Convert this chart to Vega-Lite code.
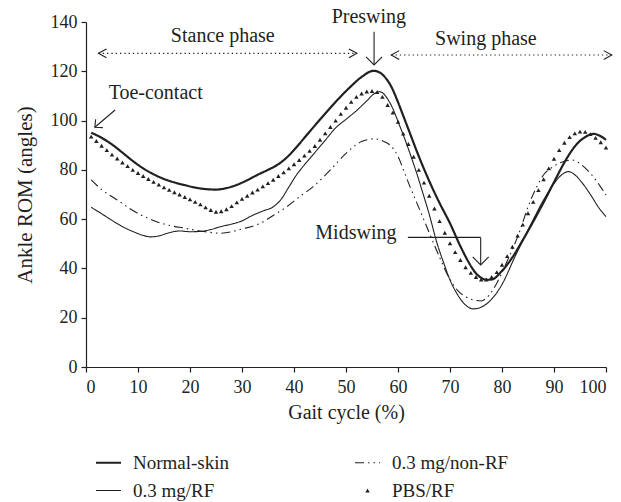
{
  "$schema": "https://vega.github.io/schema/vega-lite/v6.json",
  "width": 520,
  "height": 345,
  "autosize": {"type": "none"},
  "padding": {"left": 86, "top": 22, "right": 15, "bottom": 135},
  "background": "white",
  "config": {
    "view": {"stroke": null},
    "font": "Liberation Serif",
    "axis": {
      "grid": false,
      "domainColor": "#231f20",
      "domainWidth": 1.2,
      "tickColor": "#231f20",
      "tickWidth": 1.2,
      "tickSize": 5,
      "labelColor": "#231f20",
      "titleColor": "#231f20",
      "labelFont": "Liberation Serif",
      "titleFont": "Liberation Serif",
      "labelFontSize": 18,
      "titleFontSize": 20,
      "titleFontWeight": "normal"
    }
  },
  "datasets": {
    "curves": [
      {"series": "Normal-skin", "x": 1, "y": 95.1},
      {"series": "Normal-skin", "x": 3, "y": 93},
      {"series": "Normal-skin", "x": 5, "y": 90.3},
      {"series": "Normal-skin", "x": 7, "y": 87},
      {"series": "Normal-skin", "x": 9, "y": 83.6},
      {"series": "Normal-skin", "x": 11, "y": 80.6},
      {"series": "Normal-skin", "x": 13, "y": 78.2},
      {"series": "Normal-skin", "x": 15, "y": 76.3},
      {"series": "Normal-skin", "x": 17, "y": 74.9},
      {"series": "Normal-skin", "x": 19, "y": 73.8},
      {"series": "Normal-skin", "x": 21, "y": 72.8},
      {"series": "Normal-skin", "x": 23, "y": 72.2},
      {"series": "Normal-skin", "x": 25, "y": 72},
      {"series": "Normal-skin", "x": 27, "y": 72.6},
      {"series": "Normal-skin", "x": 29, "y": 73.9},
      {"series": "Normal-skin", "x": 31, "y": 75.8},
      {"series": "Normal-skin", "x": 33, "y": 78},
      {"series": "Normal-skin", "x": 35, "y": 80},
      {"series": "Normal-skin", "x": 37, "y": 82.3},
      {"series": "Normal-skin", "x": 39, "y": 85.8},
      {"series": "Normal-skin", "x": 41, "y": 90.5},
      {"series": "Normal-skin", "x": 43, "y": 95.5},
      {"series": "Normal-skin", "x": 45, "y": 100.4},
      {"series": "Normal-skin", "x": 47, "y": 105.2},
      {"series": "Normal-skin", "x": 49, "y": 109.8},
      {"series": "Normal-skin", "x": 51, "y": 114},
      {"series": "Normal-skin", "x": 53, "y": 117.7},
      {"series": "Normal-skin", "x": 55.3, "y": 120.2},
      {"series": "Normal-skin", "x": 56.5, "y": 119.5},
      {"series": "Normal-skin", "x": 57.5, "y": 117.6},
      {"series": "Normal-skin", "x": 58.5, "y": 114.6},
      {"series": "Normal-skin", "x": 60, "y": 107.5},
      {"series": "Normal-skin", "x": 61, "y": 102},
      {"series": "Normal-skin", "x": 62, "y": 96.5},
      {"series": "Normal-skin", "x": 64, "y": 85.5},
      {"series": "Normal-skin", "x": 66, "y": 75.5},
      {"series": "Normal-skin", "x": 68, "y": 66.5},
      {"series": "Normal-skin", "x": 70, "y": 58.3},
      {"series": "Normal-skin", "x": 72, "y": 49},
      {"series": "Normal-skin", "x": 73, "y": 44.8},
      {"series": "Normal-skin", "x": 74, "y": 41},
      {"series": "Normal-skin", "x": 75, "y": 38},
      {"series": "Normal-skin", "x": 76, "y": 36.2},
      {"series": "Normal-skin", "x": 77, "y": 35.4},
      {"series": "Normal-skin", "x": 78, "y": 35.5},
      {"series": "Normal-skin", "x": 80, "y": 39},
      {"series": "Normal-skin", "x": 82, "y": 44.5},
      {"series": "Normal-skin", "x": 84, "y": 51.5},
      {"series": "Normal-skin", "x": 86, "y": 59},
      {"series": "Normal-skin", "x": 88, "y": 66.8},
      {"series": "Normal-skin", "x": 90, "y": 75},
      {"series": "Normal-skin", "x": 92, "y": 83},
      {"series": "Normal-skin", "x": 93, "y": 86.5},
      {"series": "Normal-skin", "x": 94, "y": 89.5},
      {"series": "Normal-skin", "x": 96, "y": 93.3},
      {"series": "Normal-skin", "x": 97.6, "y": 94.6},
      {"series": "Normal-skin", "x": 99, "y": 93.6},
      {"series": "Normal-skin", "x": 100, "y": 92.2},

      {"series": "0.3 mg/RF", "x": 1, "y": 64.8},
      {"series": "0.3 mg/RF", "x": 3, "y": 62.2},
      {"series": "0.3 mg/RF", "x": 5, "y": 59.5},
      {"series": "0.3 mg/RF", "x": 7, "y": 57},
      {"series": "0.3 mg/RF", "x": 9, "y": 55},
      {"series": "0.3 mg/RF", "x": 11, "y": 53.4},
      {"series": "0.3 mg/RF", "x": 12.5, "y": 52.8},
      {"series": "0.3 mg/RF", "x": 14, "y": 53.2},
      {"series": "0.3 mg/RF", "x": 16, "y": 54.5},
      {"series": "0.3 mg/RF", "x": 18, "y": 55.2},
      {"series": "0.3 mg/RF", "x": 20, "y": 54.9},
      {"series": "0.3 mg/RF", "x": 22, "y": 55},
      {"series": "0.3 mg/RF", "x": 24, "y": 55.8},
      {"series": "0.3 mg/RF", "x": 26, "y": 57},
      {"series": "0.3 mg/RF", "x": 28, "y": 58},
      {"series": "0.3 mg/RF", "x": 30, "y": 59.3},
      {"series": "0.3 mg/RF", "x": 32, "y": 61.5},
      {"series": "0.3 mg/RF", "x": 34, "y": 63.3},
      {"series": "0.3 mg/RF", "x": 36, "y": 65},
      {"series": "0.3 mg/RF", "x": 37.5, "y": 68},
      {"series": "0.3 mg/RF", "x": 39, "y": 73},
      {"series": "0.3 mg/RF", "x": 40.5, "y": 78},
      {"series": "0.3 mg/RF", "x": 42, "y": 82},
      {"series": "0.3 mg/RF", "x": 44, "y": 87},
      {"series": "0.3 mg/RF", "x": 46, "y": 92},
      {"series": "0.3 mg/RF", "x": 48, "y": 97},
      {"series": "0.3 mg/RF", "x": 50, "y": 100.5},
      {"series": "0.3 mg/RF", "x": 52, "y": 104},
      {"series": "0.3 mg/RF", "x": 54, "y": 108},
      {"series": "0.3 mg/RF", "x": 55.5, "y": 111},
      {"series": "0.3 mg/RF", "x": 56.5, "y": 111.7},
      {"series": "0.3 mg/RF", "x": 58.5, "y": 107},
      {"series": "0.3 mg/RF", "x": 60.4, "y": 97.5},
      {"series": "0.3 mg/RF", "x": 62.3, "y": 86.7},
      {"series": "0.3 mg/RF", "x": 63.6, "y": 78.6},
      {"series": "0.3 mg/RF", "x": 64.6, "y": 71.8},
      {"series": "0.3 mg/RF", "x": 66, "y": 62},
      {"series": "0.3 mg/RF", "x": 67.4, "y": 51},
      {"series": "0.3 mg/RF", "x": 69, "y": 41},
      {"series": "0.3 mg/RF", "x": 70, "y": 35.3},
      {"series": "0.3 mg/RF", "x": 71, "y": 31},
      {"series": "0.3 mg/RF", "x": 72.6, "y": 26},
      {"series": "0.3 mg/RF", "x": 74.5, "y": 23.6},
      {"series": "0.3 mg/RF", "x": 76, "y": 24.3},
      {"series": "0.3 mg/RF", "x": 78, "y": 27.5},
      {"series": "0.3 mg/RF", "x": 80, "y": 33.5},
      {"series": "0.3 mg/RF", "x": 82.5, "y": 44.8},
      {"series": "0.3 mg/RF", "x": 85, "y": 55.5},
      {"series": "0.3 mg/RF", "x": 88, "y": 67.8},
      {"series": "0.3 mg/RF", "x": 90, "y": 74.5},
      {"series": "0.3 mg/RF", "x": 91.5, "y": 78},
      {"series": "0.3 mg/RF", "x": 92.8, "y": 79.3},
      {"series": "0.3 mg/RF", "x": 94, "y": 78},
      {"series": "0.3 mg/RF", "x": 95.5, "y": 74.5},
      {"series": "0.3 mg/RF", "x": 97, "y": 70},
      {"series": "0.3 mg/RF", "x": 98.5, "y": 65},
      {"series": "0.3 mg/RF", "x": 100, "y": 61},

      {"series": "0.3 mg/non-RF", "x": 1, "y": 75.9},
      {"series": "0.3 mg/non-RF", "x": 3, "y": 72},
      {"series": "0.3 mg/non-RF", "x": 6, "y": 67.8},
      {"series": "0.3 mg/non-RF", "x": 9, "y": 63.5},
      {"series": "0.3 mg/non-RF", "x": 12, "y": 60.3},
      {"series": "0.3 mg/non-RF", "x": 15, "y": 58},
      {"series": "0.3 mg/non-RF", "x": 19, "y": 56.3},
      {"series": "0.3 mg/non-RF", "x": 22, "y": 55.2},
      {"series": "0.3 mg/non-RF", "x": 26, "y": 54.3},
      {"series": "0.3 mg/non-RF", "x": 30, "y": 56},
      {"series": "0.3 mg/non-RF", "x": 33.5, "y": 58.3},
      {"series": "0.3 mg/non-RF", "x": 36, "y": 61.5},
      {"series": "0.3 mg/non-RF", "x": 38.6, "y": 65},
      {"series": "0.3 mg/non-RF", "x": 41, "y": 69},
      {"series": "0.3 mg/non-RF", "x": 43.7, "y": 73.2},
      {"series": "0.3 mg/non-RF", "x": 47, "y": 80},
      {"series": "0.3 mg/non-RF", "x": 50, "y": 86.7},
      {"series": "0.3 mg/non-RF", "x": 53, "y": 91.5},
      {"series": "0.3 mg/non-RF", "x": 55.5, "y": 92.6},
      {"series": "0.3 mg/non-RF", "x": 57, "y": 91.8},
      {"series": "0.3 mg/non-RF", "x": 58.5, "y": 90},
      {"series": "0.3 mg/non-RF", "x": 60, "y": 85.5},
      {"series": "0.3 mg/non-RF", "x": 61.3, "y": 78.6},
      {"series": "0.3 mg/non-RF", "x": 62.3, "y": 73.2},
      {"series": "0.3 mg/non-RF", "x": 64.2, "y": 63.7},
      {"series": "0.3 mg/non-RF", "x": 66, "y": 54.5},
      {"series": "0.3 mg/non-RF", "x": 68, "y": 44.5},
      {"series": "0.3 mg/non-RF", "x": 70, "y": 35.5},
      {"series": "0.3 mg/non-RF", "x": 71.5, "y": 31},
      {"series": "0.3 mg/non-RF", "x": 73, "y": 28.5},
      {"series": "0.3 mg/non-RF", "x": 75, "y": 27},
      {"series": "0.3 mg/non-RF", "x": 76, "y": 26.8},
      {"series": "0.3 mg/non-RF", "x": 77, "y": 28},
      {"series": "0.3 mg/non-RF", "x": 78, "y": 30.5},
      {"series": "0.3 mg/non-RF", "x": 79, "y": 34},
      {"series": "0.3 mg/non-RF", "x": 81, "y": 43},
      {"series": "0.3 mg/non-RF", "x": 83.5, "y": 55.6},
      {"series": "0.3 mg/non-RF", "x": 85, "y": 65},
      {"series": "0.3 mg/non-RF", "x": 86.7, "y": 73.2},
      {"series": "0.3 mg/non-RF", "x": 88, "y": 78},
      {"series": "0.3 mg/non-RF", "x": 90, "y": 81.5},
      {"series": "0.3 mg/non-RF", "x": 92, "y": 83.5},
      {"series": "0.3 mg/non-RF", "x": 93.5, "y": 84},
      {"series": "0.3 mg/non-RF", "x": 95, "y": 82.5},
      {"series": "0.3 mg/non-RF", "x": 97, "y": 78.6},
      {"series": "0.3 mg/non-RF", "x": 99, "y": 73},
      {"series": "0.3 mg/non-RF", "x": 100, "y": 69.8},

      {"series": "PBS/RF", "x": 1, "y": 93.5},
      {"series": "PBS/RF", "x": 2, "y": 91.7},
      {"series": "PBS/RF", "x": 3, "y": 89.8},
      {"series": "PBS/RF", "x": 4, "y": 88},
      {"series": "PBS/RF", "x": 5, "y": 86.2},
      {"series": "PBS/RF", "x": 6, "y": 84.6},
      {"series": "PBS/RF", "x": 7, "y": 83},
      {"series": "PBS/RF", "x": 8, "y": 81.5},
      {"series": "PBS/RF", "x": 9, "y": 80},
      {"series": "PBS/RF", "x": 10, "y": 78.7},
      {"series": "PBS/RF", "x": 11, "y": 77.5},
      {"series": "PBS/RF", "x": 12, "y": 76.3},
      {"series": "PBS/RF", "x": 13, "y": 75.1},
      {"series": "PBS/RF", "x": 14, "y": 74},
      {"series": "PBS/RF", "x": 15, "y": 72.9},
      {"series": "PBS/RF", "x": 16, "y": 71.9},
      {"series": "PBS/RF", "x": 17, "y": 70.9},
      {"series": "PBS/RF", "x": 18, "y": 70},
      {"series": "PBS/RF", "x": 19, "y": 69},
      {"series": "PBS/RF", "x": 20, "y": 68},
      {"series": "PBS/RF", "x": 21, "y": 67},
      {"series": "PBS/RF", "x": 22, "y": 66},
      {"series": "PBS/RF", "x": 23, "y": 64.8},
      {"series": "PBS/RF", "x": 24, "y": 63.7},
      {"series": "PBS/RF", "x": 25, "y": 63},
      {"series": "PBS/RF", "x": 26, "y": 63.2},
      {"series": "PBS/RF", "x": 27, "y": 64},
      {"series": "PBS/RF", "x": 28, "y": 65.3},
      {"series": "PBS/RF", "x": 29, "y": 66.8},
      {"series": "PBS/RF", "x": 30, "y": 68.2},
      {"series": "PBS/RF", "x": 31, "y": 69.5},
      {"series": "PBS/RF", "x": 32, "y": 70.8},
      {"series": "PBS/RF", "x": 33, "y": 72},
      {"series": "PBS/RF", "x": 34, "y": 73.3},
      {"series": "PBS/RF", "x": 35, "y": 74.6},
      {"series": "PBS/RF", "x": 36, "y": 76},
      {"series": "PBS/RF", "x": 37, "y": 77.5},
      {"series": "PBS/RF", "x": 38, "y": 79},
      {"series": "PBS/RF", "x": 39, "y": 80.6},
      {"series": "PBS/RF", "x": 40, "y": 82.3},
      {"series": "PBS/RF", "x": 41, "y": 84},
      {"series": "PBS/RF", "x": 42, "y": 85.8},
      {"series": "PBS/RF", "x": 43, "y": 87.7},
      {"series": "PBS/RF", "x": 44, "y": 89.7},
      {"series": "PBS/RF", "x": 45, "y": 92.2},
      {"series": "PBS/RF", "x": 46, "y": 94.8},
      {"series": "PBS/RF", "x": 47, "y": 97.4},
      {"series": "PBS/RF", "x": 48, "y": 100},
      {"series": "PBS/RF", "x": 49, "y": 102.7},
      {"series": "PBS/RF", "x": 50, "y": 105.2},
      {"series": "PBS/RF", "x": 51, "y": 107.6},
      {"series": "PBS/RF", "x": 52, "y": 109.6},
      {"series": "PBS/RF", "x": 53, "y": 111},
      {"series": "PBS/RF", "x": 54, "y": 111.8},
      {"series": "PBS/RF", "x": 55, "y": 112},
      {"series": "PBS/RF", "x": 56, "y": 111.6},
      {"series": "PBS/RF", "x": 57, "y": 109.6},
      {"series": "PBS/RF", "x": 58, "y": 106.3},
      {"series": "PBS/RF", "x": 59, "y": 103.2},
      {"series": "PBS/RF", "x": 60, "y": 99.5},
      {"series": "PBS/RF", "x": 61, "y": 94.7},
      {"series": "PBS/RF", "x": 62, "y": 90.5},
      {"series": "PBS/RF", "x": 63, "y": 85.3},
      {"series": "PBS/RF", "x": 64, "y": 80},
      {"series": "PBS/RF", "x": 65, "y": 74.8},
      {"series": "PBS/RF", "x": 66, "y": 69.5},
      {"series": "PBS/RF", "x": 67, "y": 64.3},
      {"series": "PBS/RF", "x": 68, "y": 59.2},
      {"series": "PBS/RF", "x": 69, "y": 54.5},
      {"series": "PBS/RF", "x": 70, "y": 50.2},
      {"series": "PBS/RF", "x": 71, "y": 46.6},
      {"series": "PBS/RF", "x": 72, "y": 43.4},
      {"series": "PBS/RF", "x": 73, "y": 40.5},
      {"series": "PBS/RF", "x": 74, "y": 38.2},
      {"series": "PBS/RF", "x": 75, "y": 36.5},
      {"series": "PBS/RF", "x": 76, "y": 35.5},
      {"series": "PBS/RF", "x": 77, "y": 35.5},
      {"series": "PBS/RF", "x": 78, "y": 36.5},
      {"series": "PBS/RF", "x": 79, "y": 38.5},
      {"series": "PBS/RF", "x": 80, "y": 41.5},
      {"series": "PBS/RF", "x": 81, "y": 45},
      {"series": "PBS/RF", "x": 82, "y": 48.8},
      {"series": "PBS/RF", "x": 83, "y": 53.3},
      {"series": "PBS/RF", "x": 84, "y": 57.8},
      {"series": "PBS/RF", "x": 85, "y": 62.4},
      {"series": "PBS/RF", "x": 86, "y": 67},
      {"series": "PBS/RF", "x": 87, "y": 71.8},
      {"series": "PBS/RF", "x": 88, "y": 76.2},
      {"series": "PBS/RF", "x": 89, "y": 80.6},
      {"series": "PBS/RF", "x": 90, "y": 84.5},
      {"series": "PBS/RF", "x": 91, "y": 88},
      {"series": "PBS/RF", "x": 92, "y": 91},
      {"series": "PBS/RF", "x": 93, "y": 93.3},
      {"series": "PBS/RF", "x": 94, "y": 94.8},
      {"series": "PBS/RF", "x": 95, "y": 95.5},
      {"series": "PBS/RF", "x": 96, "y": 95.4},
      {"series": "PBS/RF", "x": 97, "y": 94.5},
      {"series": "PBS/RF", "x": 98, "y": 93},
      {"series": "PBS/RF", "x": 99, "y": 91.2},
      {"series": "PBS/RF", "x": 100, "y": 89}
    ],
    "dotted": [
      {"x": 2.4, "y": 127.3, "x2": 52.1, "y2": 127.3},
      {"x": 58.7, "y": 126.6, "x2": 101.1, "y2": 126.6}
    ],
    "solid": [
      {"x": 55.4, "y": 136, "x2": 55.4, "y2": 122.6},
      {"x": 5.6, "y": 104.3, "x2": 1.7, "y2": 97.3},
      {"x": 61.9, "y": 52.6, "x2": 75.9, "y2": 52.6},
      {"x": 75.9, "y": 52.6, "x2": 75.9, "y2": 41.4}
    ],
    "heads": [
      {"x": 2.4, "y": 127.3, "dir": "left"},
      {"x": 52.1, "y": 127.3, "dir": "right"},
      {"x": 58.7, "y": 126.6, "dir": "left"},
      {"x": 101.1, "y": 126.6, "dir": "right"},
      {"x": 55.4, "y": 122.6, "dir": "down"},
      {"x": 75.9, "y": 41.4, "dir": "down"},
      {"x": 1.7, "y": 97.3, "dir": "downleft"}
    ],
    "labels": [
      {"x": 26.3, "y": 134.3, "label": "Stance phase"},
      {"x": 76.9, "y": 133.3, "label": "Swing phase"},
      {"x": 54.4, "y": 142, "label": "Preswing"},
      {"x": 13.4, "y": 111, "label": "Toe-contact"},
      {"x": 51.9, "y": 54.4, "label": "Midswing"}
    ]
  },
  "layer": [
    {
      "data": {"name": "curves"},
      "transform": [{"filter": "datum.series !== 'PBS/RF'"}],
      "mark": {"type": "line", "interpolate": "monotone", "color": "#231f20"},
      "encoding": {
        "x": {"field": "x", "type": "quantitative", "scale": {"domain": [0, 100], "nice": false}, "axis": {"title": "Gait cycle (%)", "values": [0, 10, 20, 30, 40, 50, 60, 70, 80, 90, 100], "labelPadding": 6, "titlePadding": 6}},
        "y": {"field": "y", "type": "quantitative", "scale": {"domain": [0, 140], "nice": false}, "axis": {"title": "Ankle ROM (angles)", "titleFontSize": 21, "values": [0, 20, 40, 60, 80, 100, 120, 140], "labelPadding": 4, "titlePadding": 15}},
        "strokeDash": {
          "field": "series",
          "type": "nominal",
          "scale": {"domain": ["Normal-skin", "0.3 mg/RF", "0.3 mg/non-RF", "PBS/RF"], "range": [[1, 0], [1, 0], [9, 4, 1.5, 4, 1.5, 4], [1, 0]]},
          "legend": {
            "title": null,
            "orient": "none",
            "legendX": 13,
            "legendY": 431,
            "columns": 2,
            "columnPadding": 122,
            "rowPadding": 8,
            "labelFont": "Liberation Serif",
            "labelFontSize": 19,
            "labelColor": "#231f20",
            "labelOffset": 15,
            "symbolType": "stroke",
            "symbolSize": 625,
            "symbolStrokeColor": "#231f20",
            "encode": {
              "symbols": {
                "update": {
                  "shape": {"signal": "datum.value === 'PBS/RF' ? 'triangle-up' : 'stroke'"},
                  "size": {"signal": "datum.value === 'PBS/RF' ? 20 : 625"},
                  "fill": {"signal": "datum.value === 'PBS/RF' ? '#231f20' : 'transparent'"},
                  "stroke": {"value": "#231f20"},
                  "strokeWidth": {"signal": "datum.value === 'Normal-skin' ? 2.2 : (datum.value === 'PBS/RF' ? 0 : 1.1)"}
                }
              }
            }
          }
        },
        "strokeWidth": {"condition": {"test": "datum.series === 'Normal-skin'", "value": 2.2}, "value": 1.1}
      }
    },
    {
      "data": {"name": "curves"},
      "transform": [{"filter": "datum.series === 'PBS/RF'"}],
      "mark": {"type": "point", "shape": "triangle-up", "filled": true, "size": 20, "color": "#231f20", "opacity": 1},
      "encoding": {
        "x": {"field": "x", "type": "quantitative"},
        "y": {"field": "y", "type": "quantitative"}
      }
    },
    {
      "data": {"name": "dotted"},
      "mark": {"type": "rule", "color": "#231f20", "strokeWidth": 1.2, "strokeDash": [1.3, 3]},
      "encoding": {
        "x": {"field": "x", "type": "quantitative"},
        "y": {"field": "y", "type": "quantitative"},
        "x2": {"field": "x2"},
        "y2": {"field": "y2"}
      }
    },
    {
      "data": {"name": "solid"},
      "mark": {"type": "rule", "color": "#231f20", "strokeWidth": 1.1},
      "encoding": {
        "x": {"field": "x", "type": "quantitative"},
        "y": {"field": "y", "type": "quantitative"},
        "x2": {"field": "x2"},
        "y2": {"field": "y2"}
      }
    },
    {
      "data": {"name": "heads"},
      "mark": {"type": "point", "filled": false, "color": "#231f20", "strokeWidth": 1.1, "opacity": 1},
      "encoding": {
        "x": {"field": "x", "type": "quantitative"},
        "y": {"field": "y", "type": "quantitative"},
        "shape": {
          "field": "dir",
          "type": "nominal",
          "legend": null,
          "scale": {"domain": ["left", "right", "down", "downleft"], "range": ["M1,-0.55L0,0L1,0.55", "M-1,-0.55L0,0L-1,0.55", "M-1,-1L0,0L1,-1", "M1,0.05L0,0L0.1,-1"]}
        },
        "size": {
          "field": "dir",
          "type": "nominal",
          "legend": null,
          "scale": {"domain": ["left", "right", "down", "downleft"], "range": [256, 256, 196, 400]}
        }
      }
    },
    {
      "data": {"name": "labels"},
      "mark": {"type": "text", "font": "Liberation Serif", "fontSize": 20, "color": "#231f20", "align": "center", "baseline": "middle"},
      "encoding": {
        "x": {"field": "x", "type": "quantitative"},
        "y": {"field": "y", "type": "quantitative"},
        "text": {"field": "label"}
      }
    }
  ]
}
